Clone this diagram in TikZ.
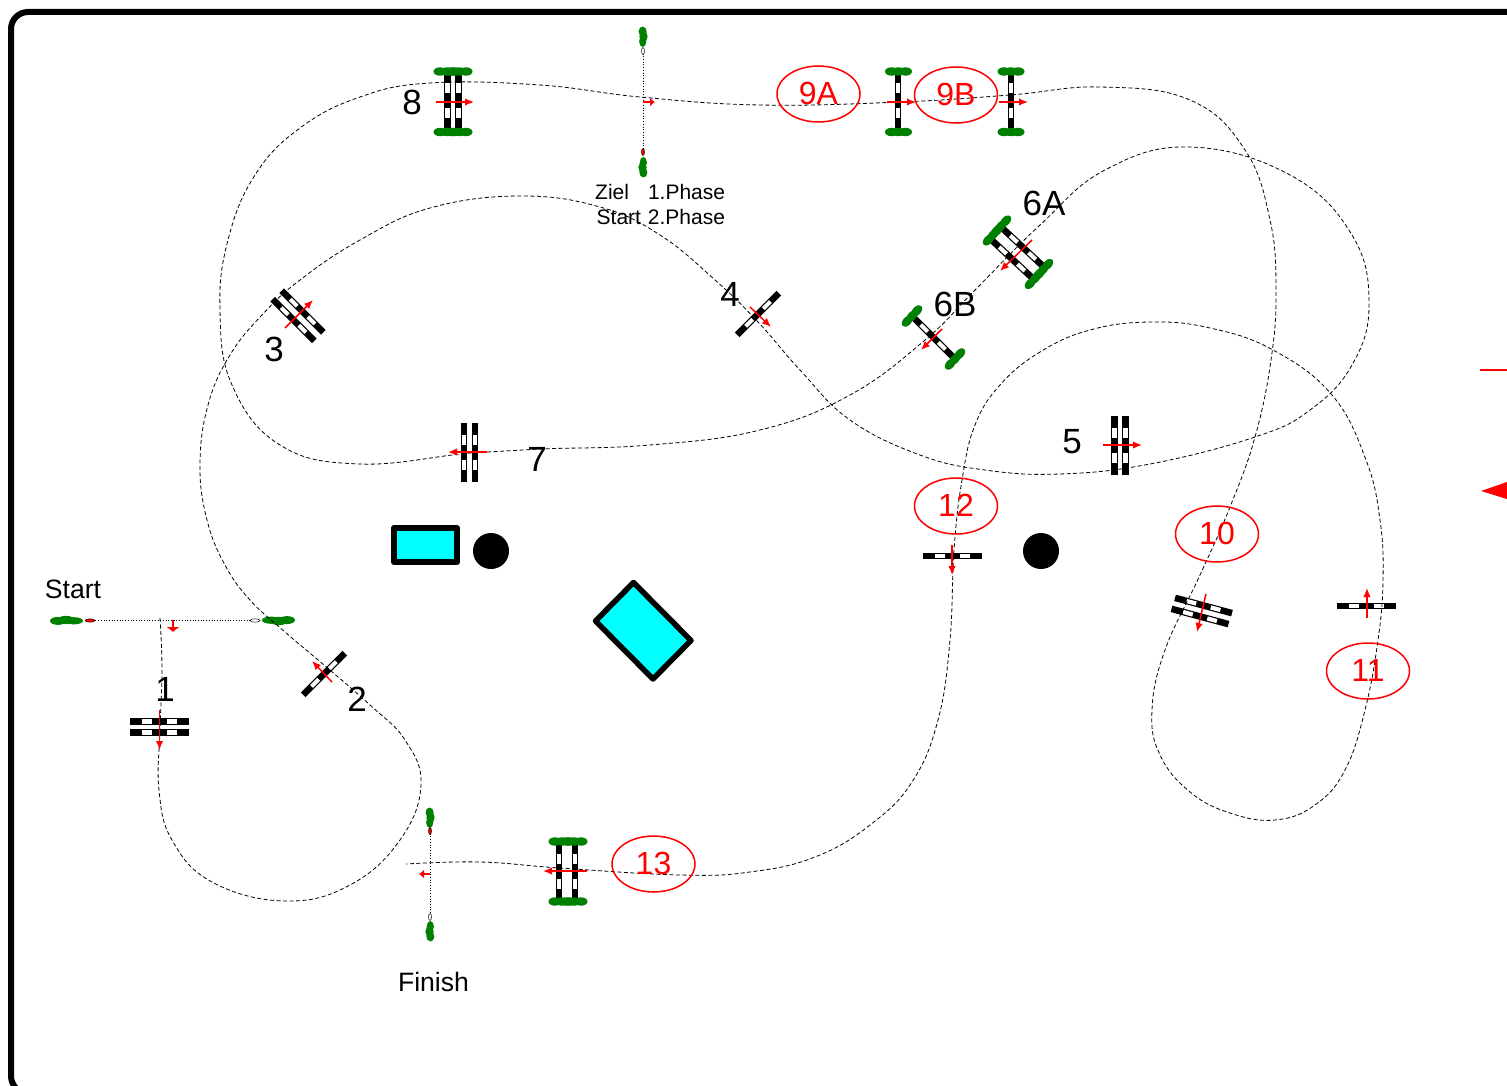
\documentclass[tikz,border=0pt]{standalone}
\usepackage{fontspec}
\setmainfont{Liberation Sans}
\usepackage{tikz}
\usetikzlibrary{arrows.meta}
\usetikzlibrary{shapes.geometric}
\definecolor{ffffzz}{rgb}{0.,1.,1.}
\definecolor{zzggzz}{rgb}{0.,0.5,0.}
\tikzset{
  rail/.pic={\fill[black] (-29.5,-3.3) rectangle (29.5,3.3);
    \fill[white] (-17.5,-2.1) rectangle (-7.5,2.1);
    \fill[white] (7.5,-2.1) rectangle (17.5,2.1);},
  bush/.pic={\fill[zzggzz] (-7,0) ellipse (6.5 and 4.2);
    \fill[zzggzz] (0,0) ellipse (6.5 and 4.2);
    \fill[zzggzz] (7,0) ellipse (6.5 and 4.2);},
  flag/.pic={\fill[zzggzz] (-9,0.3) ellipse (9 and 3.6);
    \fill[zzggzz] (-17,-0.5) ellipse (9 and 4.1);
    \fill[zzggzz] (-25,0.4) ellipse (8 and 4);},
  course/.style={dash pattern=on 4pt off 2.5pt,line width=0.8pt},
  dotline/.style={dotted,line width=0.7pt},
  dirarrow/.style={draw=red,line width=1.5pt,-{Latex[length=9pt,width=7.5pt]}},
  shortarrow/.style={draw=red,line width=1.5pt,-{Latex[length=5pt,width=9pt]}},
  numtext/.style={font=\fontsize{35}{42}\selectfont,inner sep=0pt},
  fonttext/.style={font=\fontsize{26.6}{32}\selectfont,inner sep=0pt},
  jumpno/.style={ellipse,draw=red,line width=1.5pt,text=red,text depth=2pt,minimum width=83pt,minimum height=56pt,inner sep=0pt,font=\fontsize{32}{38}\selectfont},
  obstacle/.style={draw=black,fill=ffffzz,line width=5.5pt,line join=round}
}
\begin{document}
\begin{tikzpicture}[line cap=butt,line join=round,x=1pt,y=-1pt]
\useasboundingbox (0,0) rectangle (1507,1086);
\clip (0,0) rectangle (1507,1086);
\draw [line width=6pt,rounded corners=17pt] (1600,12) -- (11,12) -- (11,1093) -- (1600,1093);
%% obstacles
\draw [obstacle] (393.8,527.8) rectangle (457.2,562.2);
\draw [obstacle] (633.5,582.5) -- (691,640.5) -- (653,679) -- (595.5,621) -- cycle;
\fill (491,551) circle (18);
\fill (1041,551) circle (18);
%% start, phase and finish lines
\draw [dotline] (90,620.5) -- (255,620.5);
\pic at (83,620.5) {flag};
\pic[rotate=180] at (262,620.5) {flag};
\draw [fill=red,line width=0.5pt] (90,620.5) ellipse (5 and 1.7);
\draw [fill=white,line width=0.5pt] (255,620.5) ellipse (5 and 1.7);
\draw [dotline] (643,51) -- (643,152);
\pic[rotate=-90,xscale=0.62] at (643,47) {flag};
\pic[rotate=90,xscale=0.62] at (643,157) {flag};
\draw [fill=white,line width=0.5pt] (643,51) ellipse (1.5 and 3.5);
\draw [fill=red,line width=0.5pt] (643,152) ellipse (1.5 and 3.5);
\draw [dotline] (430,831) -- (430,917);
\pic[rotate=-90,xscale=0.62] at (430,828) {flag};
\pic[rotate=90,xscale=0.62] at (430,921) {flag};
\draw [fill=red,line width=0.5pt] (430,831) ellipse (1.5 and 3.5);
\draw [fill=white,line width=0.5pt] (430,917) ellipse (1.5 and 3.5);
%% fences
\pic at (159.5,721.5) {rail};
\pic at (159.5,732.5) {rail};
\pic[rotate=45] at (324,674) {rail};
\pic[rotate=-45] at (293.5,320) {rail};
\pic[rotate=-45] at (302.5,311.5) {rail};
\pic[rotate=45] at (758,314) {rail};
\pic[rotate=90] at (1114.5,445.5) {rail};
\pic[rotate=90] at (1125.5,445.5) {rail};
\pic[rotate=-43] at (1012,259) {rail};
\pic[rotate=-43] at (1023,247.5) {rail};
\pic[rotate=47] at (993,234.9) {bush};
\pic[rotate=47] at (1001,226.1) {bush};
\pic[rotate=47] at (1035,278.4) {bush};
\pic[rotate=47] at (1043,269.6) {bush};
\pic[rotate=-45] at (933,337) {rail};
\pic[rotate=47] at (912,316) {bush};
\pic[rotate=47] at (955,359) {bush};
\pic[rotate=90] at (464,452.5) {rail};
\pic[rotate=90] at (475,452.5) {rail};
\pic[rotate=90] at (447.5,101) {rail};
\pic[rotate=90] at (458.5,101) {rail};
\pic at (447,71.5) {bush};
\pic at (459,71.5) {bush};
\pic at (447,132) {bush};
\pic at (459,132) {bush};
\pic[rotate=90] at (898,101) {rail};
\pic at (898.5,71.5) {bush};
\pic at (898.5,132) {bush};
\pic[rotate=90] at (1011,101) {rail};
\pic at (1011,71.5) {bush};
\pic at (1011,132) {bush};
\pic[rotate=-15] at (1203.5,605.5) {rail};
\pic[rotate=-15] at (1200,616.5) {rail};
\pic at (1366.5,606) {rail};
\pic at (952.5,556) {rail};
\pic[rotate=90] at (559,871) {rail};
\pic[rotate=90] at (575,871) {rail};
\pic at (562,841.5) {bush};
\pic at (574,841.5) {bush};
\pic at (562,901.5) {bush};
\pic at (574,901.5) {bush};
%% course line
\draw [course] plot[smooth,tension=0.7] coordinates {(160,618) (162,670) (160,730) (159,790) (172,840) (212,882) (285,901) (350,885) (400,840) (421,785) (405,740) (370,705) (324,665) (285,632) (250,600) (225,565) (207,520) (200,465) (208,405) (230,355) (262,315) (300,280) (360,240) (430,208) (520,196) (600,207) (660,235) (715,280) (758,322) (800,370) (850,420) (920,455) (985,470) (1060,474) (1150,464) (1255,437) (1310,410) (1352,365) (1369,305) (1352,235) (1290,175) (1190,147) (1105,170) (1040,225) (975,290) (925,340) (850,395) (760,430) (650,445) (540,449) (470,453) (360,464) (280,445) (232,385) (220,310) (228,240) (255,175) (300,128) (360,97) (430,83) (540,85) (640,97) (760,105) (900,102) (1010,95) (1100,87) (1190,100) (1245,150) (1270,220) (1276,290) (1271,360) (1255,437) (1230,507) (1200,575) (1165,650) (1152,710) (1160,755) (1190,792) (1230,813) (1275,820) (1315,805) (1345,770) (1365,710) (1378,640) (1383,580) (1380,520) (1366,460) (1332,395) (1273,350) (1210,328) (1150,322) (1090,330) (1040,352) (1000,385) (975,425) (962,480) (954,550) (950,640) (938,720) (912,782) (870,825) (815,857) (750,872) (680,875) (560,868) (480,862) (406,864)};
%% jump directions
\draw [shortarrow,-{Latex[length=5pt,width=14pt]}] (173,620) -- (173,632);
\draw [dirarrow] (159.5,710) -- (159.5,750);
\draw [dirarrow] (332,682) -- (312,661);
\draw [dirarrow] (285,328) -- (313,300);
\draw [dirarrow] (750,307) -- (771,327);
\draw [dirarrow] (1103,445) -- (1142,445);
\draw [dirarrow] (1032,240) -- (1000,271);
\draw [dirarrow] (942,329) -- (921,350);
\draw [dirarrow] (487,452) -- (448,452);
\draw [dirarrow] (436,102) -- (474,102);
\draw [shortarrow] (643,102) -- (655,102);
\draw [dirarrow] (887,102) -- (916,102);
\draw [dirarrow] (999,102) -- (1028,102);
\draw [dirarrow] (1206,594) -- (1197,632);
\draw [dirarrow] (1367,618) -- (1367,588);
\draw [dirarrow] (952,545) -- (952,575);
\draw [dirarrow] (587,871) -- (543,871);
\draw [shortarrow] (430,874) -- (419,874);
%% arrow at the right margin
\draw [red,line width=1.6pt] (1480,370) -- (1507,370);
\fill [red] (1481,491) -- (1507,482) -- (1507,499) -- cycle;
%% labels
\node [numtext] (n1) at (165,689) {1};
\node [numtext] (n2) at (357,699) {2};
\node [numtext] (n3) at (274,349) {3};
\node [numtext] (n4) at (730,294) {4};
\node [numtext] (n5) at (1072,442) {5};
\node [numtext] (n6a) at (1044,203) {6A};
\node [numtext] (n6b) at (955,304) {6B};
\node [numtext] (n7) at (537,459) {7};
\node [numtext] (n8) at (412,102) {8};
\node [jumpno] (n9a) at (818.5,94) {9A};
\node [jumpno] (n9b) at (956,95) {9B};
\node [jumpno] (n10) at (1217,534) {10};
\node [jumpno] (n11) at (1368,671) {11};
\node [jumpno] (n12) at (956,506) {12};
\node [jumpno] (n13) at (653.5,864) {13};
\node [fonttext] (lstart) at (73,589) {Start};
\node [fonttext] (lfinish) at (433.5,982) {Finish};
\node [inner sep=0pt,anchor=west,align=left,font=\fontsize{21}{25}\selectfont] (lphase) at (595,204.5) {Ziel\hspace{19pt}1.Phase\\\hspace{1.5pt}Start\hspace{1pt} 2.Phase};
\end{tikzpicture}
\end{document}
